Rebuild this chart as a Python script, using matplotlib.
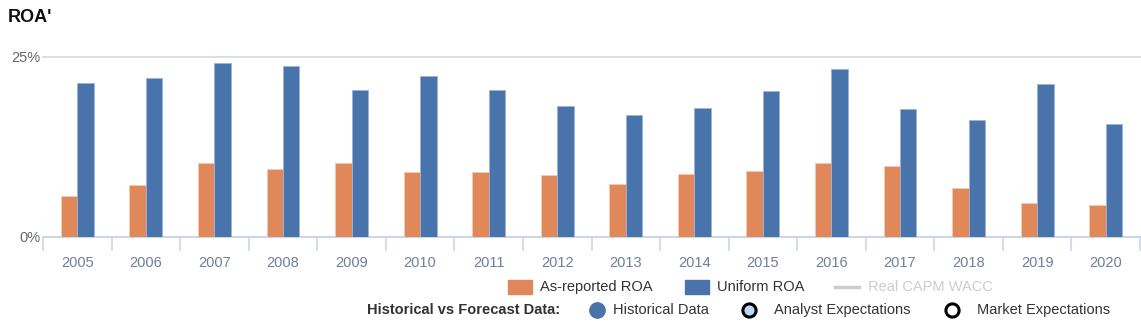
import numpy as np
import matplotlib
matplotlib.use("Agg")
import matplotlib.pyplot as plt
from matplotlib.lines import Line2D
from matplotlib.patches import Rectangle

plt.rcParams['font.family'] = ['Liberation Sans', 'DejaVu Sans']

years = [str(y) for y in range(2005, 2021)]
as_reported = [5.7, 7.2, 10.3, 9.4, 10.3, 9.0, 9.0, 8.6, 7.4, 8.75, 9.2, 10.3, 9.9, 6.8, 4.7, 4.4]
uniform = [21.4, 22.1, 24.2, 23.75, 20.4, 22.4, 20.4, 18.2, 16.9, 17.9, 20.3, 23.3, 17.8, 16.25, 21.25, 15.7]

orange = '#e0885a'
blue = '#4873ab'
axis_col = '#ccd6eb'
tick_txt = '#6e7f9c'

W, H = 1141, 327
fig = plt.figure(figsize=(W / 100, H / 100), dpi=100)
ax = fig.add_axes([43 / W, 1 - 237 / H, (1140 - 43) / W, (237 - 57) / H])

x = np.arange(len(years))
bw = 0.24
ax.bar(x - bw / 2, as_reported, bw, color=orange, edgecolor='#f3c9b4', linewidth=0.6, zorder=3)
ax.bar(x + bw / 2, uniform, bw, color=blue, edgecolor='#9db5d6', linewidth=0.6, zorder=3)

ax.set_xlim(-0.5, len(years) - 0.5)
ax.set_ylim(0, 25)
ax.set_yticks([0, 25])
ax.set_yticklabels(['0%', '25%'], color='#666666', fontsize=10.5)
ax.axhline(25, color='#d8d8d8', linewidth=1.2, zorder=1, clip_on=False)

ax.set_xticks(x)
ax.set_xticklabels(years, color=tick_txt, fontsize=10.5)
ax.set_xticks(np.arange(-0.5, len(years)), minor=True)
ax.tick_params(axis='x', which='major', length=0, pad=13.5)
ax.tick_params(axis='x', which='minor', length=10, width=1.2, color=axis_col)
ax.tick_params(axis='y', length=0, pad=2)

for s in ['top', 'right', 'left']:
    ax.spines[s].set_visible(False)
ax.spines['bottom'].set_color(axis_col)
ax.spines['bottom'].set_linewidth(1.5)

fig.text(8 / W, 1 - 18 / H, "ROA'", fontsize=13, fontweight='bold', color='#111111', va='center')

# legend row 1
y1 = 1 - 287 / H
fig.patches.append(Rectangle((508 / W, y1 - 7 / H), 24 / W, 14 / H, transform=fig.transFigure, color=orange))
fig.text(540 / W, y1, 'As-reported ROA', fontsize=10.5, color='#333333', va='center')
fig.patches.append(Rectangle((685 / W, y1 - 7 / H), 24 / W, 14 / H, transform=fig.transFigure, color=blue))
fig.text(717 / W, y1, 'Uniform ROA', fontsize=10.5, color='#333333', va='center')
fig.lines.append(Line2D([835 / W, 859 / W], [y1, y1], transform=fig.transFigure, color='#cccccc', linewidth=2.5))
fig.text(868 / W, y1, 'Real CAPM WACC', fontsize=10.5, color='#cccccc', va='center')

# legend row 2
y2 = 1 - 310 / H
fig.text(367 / W, y2, 'Historical vs Forecast Data:', fontsize=10.5, fontweight='bold', color='#333333', va='center')
fig.lines.append(Line2D([597 / W], [y2], transform=fig.transFigure, marker='o', markersize=11,
                        markerfacecolor=blue, markeredgecolor=blue))
fig.text(613 / W, y2, 'Historical Data', fontsize=10.5, color='#333333', va='center')
fig.lines.append(Line2D([749 / W], [y2], transform=fig.transFigure, marker='o', markersize=9.5,
                        markerfacecolor='#bcd9f5', markeredgecolor='black', markeredgewidth=2.2))
fig.text(774 / W, y2, 'Analyst Expectations', fontsize=10.5, color='#333333', va='center')
fig.lines.append(Line2D([952 / W], [y2], transform=fig.transFigure, marker='o', markersize=9.5,
                        markerfacecolor='white', markeredgecolor='black', markeredgewidth=2.2))
fig.text(977 / W, y2, 'Market Expectations', fontsize=10.5, color='#333333', va='center')

fig.savefig('out.png', dpi=100)
